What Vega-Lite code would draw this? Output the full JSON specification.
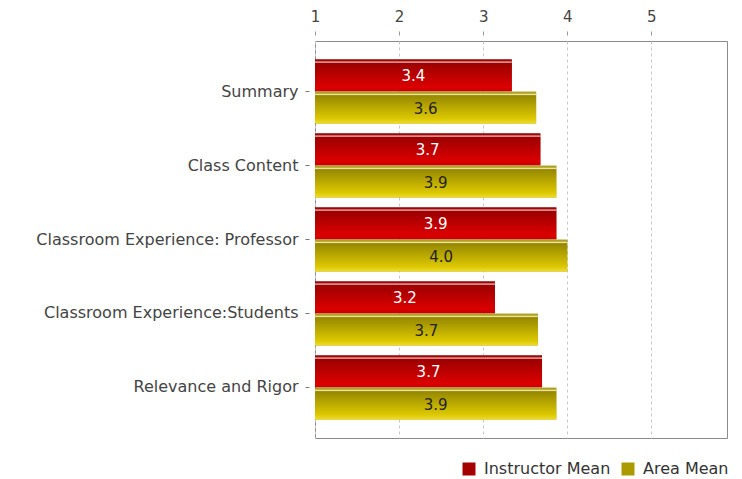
{
  "$schema": "https://vega.github.io/schema/vega-lite/v6.json",
  "autosize": {"type": "none"},
  "padding": {"left": 315, "top": 41, "right": 15, "bottom": 41},
  "width": 412,
  "height": 397,
  "background": "white",
  "config": {
    "font": "DejaVu Sans",
    "view": {"stroke": "#8a8a8a", "strokeWidth": 1},
    "axis": {"labelFont": "DejaVu Sans", "labelFontSize": 16, "labelColor": "#444"}
  },
  "data": {
    "values": [
      {"category": "Summary", "series": "Instructor Mean", "value": 3.34, "label": "3.4"},
      {"category": "Summary", "series": "Area Mean", "value": 3.63, "label": "3.6"},
      {"category": "Class Content", "series": "Instructor Mean", "value": 3.68, "label": "3.7"},
      {"category": "Class Content", "series": "Area Mean", "value": 3.87, "label": "3.9"},
      {"category": "Classroom Experience: Professor", "series": "Instructor Mean", "value": 3.87, "label": "3.9"},
      {"category": "Classroom Experience: Professor", "series": "Area Mean", "value": 4.0, "label": "4.0"},
      {"category": "Classroom Experience:Students", "series": "Instructor Mean", "value": 3.14, "label": "3.2"},
      {"category": "Classroom Experience:Students", "series": "Area Mean", "value": 3.65, "label": "3.7"},
      {"category": "Relevance and Rigor", "series": "Instructor Mean", "value": 3.70, "label": "3.7"},
      {"category": "Relevance and Rigor", "series": "Area Mean", "value": 3.87, "label": "3.9"}
    ]
  },
  "encoding": {
    "y": {
      "field": "category", "type": "nominal", "sort": null,
      "scale": {"paddingInner": 0.135, "paddingOuter": 0.25},
      "axis": {"title": null, "domain": false, "offset": 6, "tickSize": 4, "tickColor": "#777", "labelPadding": 7, "labelLimit": 400}
    },
    "yOffset": {
      "field": "series", "type": "nominal",
      "scale": {"domain": ["Instructor Mean", "Area Mean"], "paddingInner": 0.02}
    },
    "x": {
      "field": "value", "type": "quantitative",
      "scale": {"domain": [1, 5.9], "zero": false, "nice": false},
      "axis": {"orient": "top", "title": null, "values": [1, 2, 3, 4, 5], "offset": 6, "tickSize": 4, "tickColor": "#999", "domain": false, "labelPadding": 7, "labelFontSize": 15, "grid": true, "gridDash": [3, 3], "gridColor": "#c8c8c8", "labelFlush": false}
    }
  },
  "layer": [
    {
      "mark": {"type": "bar"},
      "encoding": {
        "x2": {"datum": 1},
        "color": {
          "field": "series", "type": "nominal",
          "scale": {"domain": ["Instructor Mean", "Area Mean"], "range": ["#a50000", "#aa9a00"]},
          "legend": {
            "title": null, "orient": "none", "direction": "horizontal",
            "legendX": 146, "legendY": 420,
            "symbolType": "square", "symbolSize": 169, "symbolStrokeWidth": 0,
            "labelFontSize": 16, "labelColor": "#333", "labelFont": "DejaVu Sans",
            "labelOffset": 7, "columnPadding": 9, "padding": 0, "labelLimit": 300
          }
        }
      }
    },
    {
      "transform": [{"filter": "datum.series === 'Instructor Mean'"}],
      "mark": {
        "type": "bar",
        "fill": {
          "gradient": "linear", "x1": 0, "y1": 0, "x2": 0, "y2": 1,
          "stops": [
            {"offset": 0, "color": "#8c0000"},
            {"offset": 0.05, "color": "#a01010"},
            {"offset": 0.08, "color": "#ffd8d8"},
            {"offset": 0.12, "color": "#9c0000"},
            {"offset": 0.88, "color": "#dc0000"},
            {"offset": 1, "color": "#c80000"}
          ]
        }
      },
      "encoding": {"x2": {"datum": 1}}
    },
    {
      "transform": [{"filter": "datum.series === 'Area Mean'"}],
      "mark": {
        "type": "bar",
        "fill": {
          "gradient": "linear", "x1": 0, "y1": 0, "x2": 0, "y2": 1,
          "stops": [
            {"offset": 0, "color": "#a89a20"},
            {"offset": 0.05, "color": "#b8aa30"},
            {"offset": 0.08, "color": "#f6eeb0"},
            {"offset": 0.12, "color": "#968800"},
            {"offset": 0.85, "color": "#dcc800"},
            {"offset": 1, "color": "#eedc30"}
          ]
        }
      },
      "encoding": {"x2": {"datum": 1}}
    },
    {
      "transform": [{"calculate": "(datum.value + 1) / 2", "as": "mid"}],
      "mark": {"type": "text", "font": "DejaVu Sans", "fontSize": 15, "baseline": "middle", "align": "center", "dy": 1},
      "encoding": {
        "x": {"field": "mid", "type": "quantitative"},
        "text": {"field": "label"},
        "color": {
          "condition": {"test": "datum.series === 'Instructor Mean'", "value": "#ffffff"},
          "value": "#222222"
        }
      }
    }
  ]
}
